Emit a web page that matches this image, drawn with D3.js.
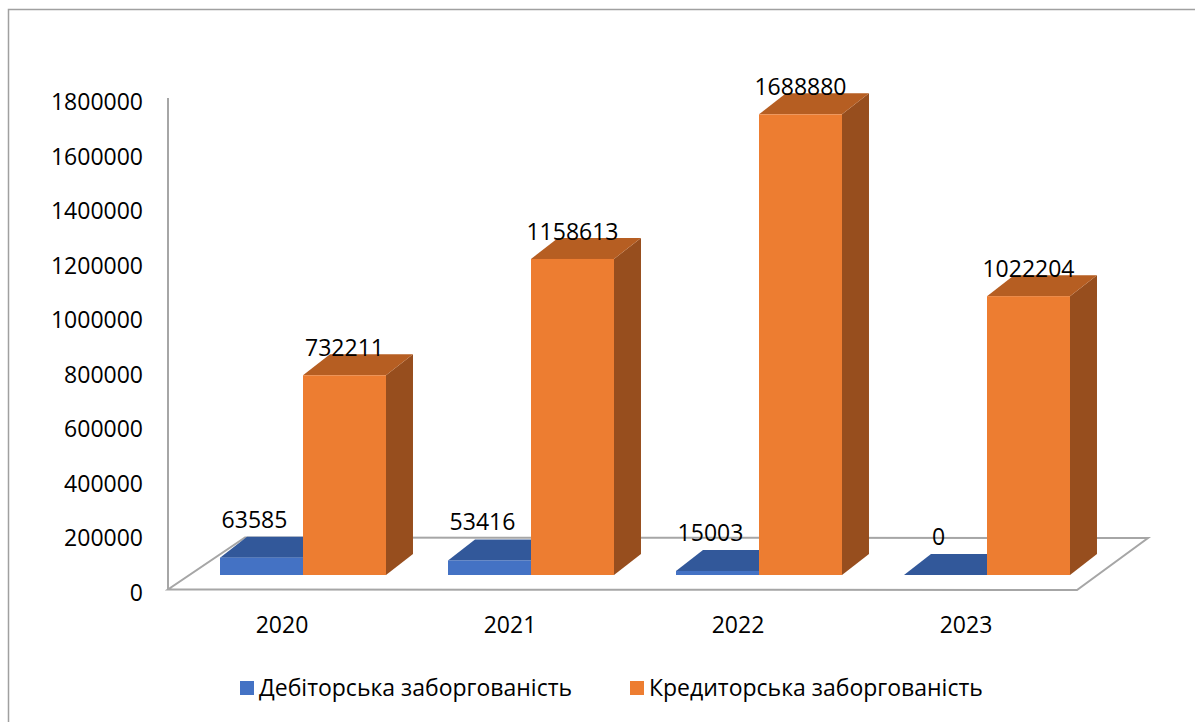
<!DOCTYPE html>
<html>
<head>
<meta charset="utf-8">
<script src="https://cdn.jsdelivr.net/npm/d3@7"></script>
<style>
  body { margin: 0; background: #fff; }
  text { font-family: "Open Sans", "Noto Sans", sans-serif; fill: #000; }
</style>
</head>
<body>
<script>
const years = ["2020", "2021", "2022", "2023"];
const seriesNames = ["Дебіторська заборгованість", "Кредиторська заборгованість"];
const debtorValues = [63585, 53416, 15003, 0];
const creditorValues = [732211, 1158613, 1688880, 1022204];
const yTicks = [0, 200000, 400000, 600000, 800000, 1000000, 1200000, 1400000, 1600000, 1800000];

const W = 1195, H = 722;
const depthX = 27, depthY = -21;

const front = ["#4472C4", "#ED7D31"];
const topFace = ["#32589A", "#B65E22"];
const sideFace = ["#2A4A85", "#974E1E"];

const svg = d3.select("body")
  .append("svg")
  .attr("width", W)
  .attr("height", H);

// outer frame
svg.append("rect")
  .attr("x", 8.5).attr("y", 9.5)
  .attr("width", 1200).attr("height", 720)
  .attr("fill", "none")
  .attr("stroke", "#a0a0a0")
  .attr("stroke-width", 1.5);

const x = d3.scaleBand()
  .domain(years)
  .range([189, 1101])
  .paddingInner(0.272)
  .paddingOuter(0.136);

const xs = d3.scaleBand()
  .domain([0, 1])
  .range([0, x.bandwidth()]);

// bar heights (front face baseline)
const y = d3.scaleLinear().domain([0, 1800000]).range([575, 84]);
// axis labels sit a bit lower because of the 3d floor
const yAxisScale = d3.scaleLinear().domain([0, 1800000]).range([593, 102.5]);

// floor
svg.append("polygon")
  .attr("points", [[168, 589.5], [1077, 590], [1148, 538], [245, 537.5]].map(p => p.join(",")).join(" "))
  .attr("fill", "#fff")
  .attr("stroke", "#a6a6a6")
  .attr("stroke-width", 2);

// vertical axis line
svg.append("line")
  .attr("x1", 168).attr("x2", 168)
  .attr("y1", 98).attr("y2", 589.5)
  .attr("stroke", "#a6a6a6")
  .attr("stroke-width", 2);

const yAxis = svg.append("g")
  .attr("transform", "translate(143,0)")
  .call(d3.axisLeft(yAxisScale).tickValues(yTicks).tickSize(0).tickPadding(0).tickFormat(d3.format("d")));
yAxis.select(".domain").remove();
yAxis.selectAll("text")
  .style("font-family", '"Open Sans", "Noto Sans", sans-serif')
  .style("font-size", "23px")
  .attr("fill", "#000");

// category labels
svg.append("g")
  .selectAll("text")
  .data(years)
  .enter()
  .append("text")
  .attr("x", d => x(d) + x.bandwidth() / 2 - 21)
  .attr("y", 633)
  .attr("text-anchor", "middle")
  .style("font-size", "23px")
  .text(d => d);

const rows = years.map((yr, i) => ({ year: yr, values: [debtorValues[i], creditorValues[i]] }));

const bars = svg.append("g");
rows.forEach(r => {
  r.values.forEach((v, s) => {
    const x0 = x(r.year) + xs(s);
    const w = xs.bandwidth();
    const t = y(v);
    const b = y(0);
    const g = bars.append("g").attr("class", "bar");
    g.append("polygon")
      .attr("points", [[x0 + w, t], [x0 + w + depthX, t + depthY], [x0 + w + depthX, b + depthY], [x0 + w, b]].join(" "))
      .attr("fill", sideFace[s]);
    g.append("polygon")
      .attr("points", [[x0, t], [x0 + depthX, t + depthY], [x0 + w + depthX, t + depthY], [x0 + w, t]].join(" "))
      .attr("fill", topFace[s]);
    g.append("rect")
      .attr("x", x0).attr("y", t)
      .attr("width", w).attr("height", b - t)
      .attr("fill", front[s]);
  });
});

// data labels
const labels = svg.append("g");
rows.forEach(r => {
  r.values.forEach((v, s) => {
    labels.append("text")
      .attr("x", x(r.year) + xs(s) + xs.bandwidth() / 2 + (s === 0 ? -7 : 0))
      .attr("y", y(v) + (s === 0 ? -30 : -19))
      .attr("text-anchor", "middle")
      .style("font-size", "23px")
      .text(v);
  });
});

// legend
const legendX = [240, 630];
const legend = svg.append("g")
  .selectAll("g")
  .data(seriesNames)
  .enter()
  .append("g")
  .attr("transform", (d, i) => `translate(${legendX[i]},681)`);
legend.append("rect")
  .attr("width", 14).attr("height", 14)
  .attr("fill", (d, i) => front[i]);
legend.append("text")
  .attr("x", 19).attr("y", 15)
  .style("font-size", "23px")
  .text(d => d);
</script>
</body>
</html>
